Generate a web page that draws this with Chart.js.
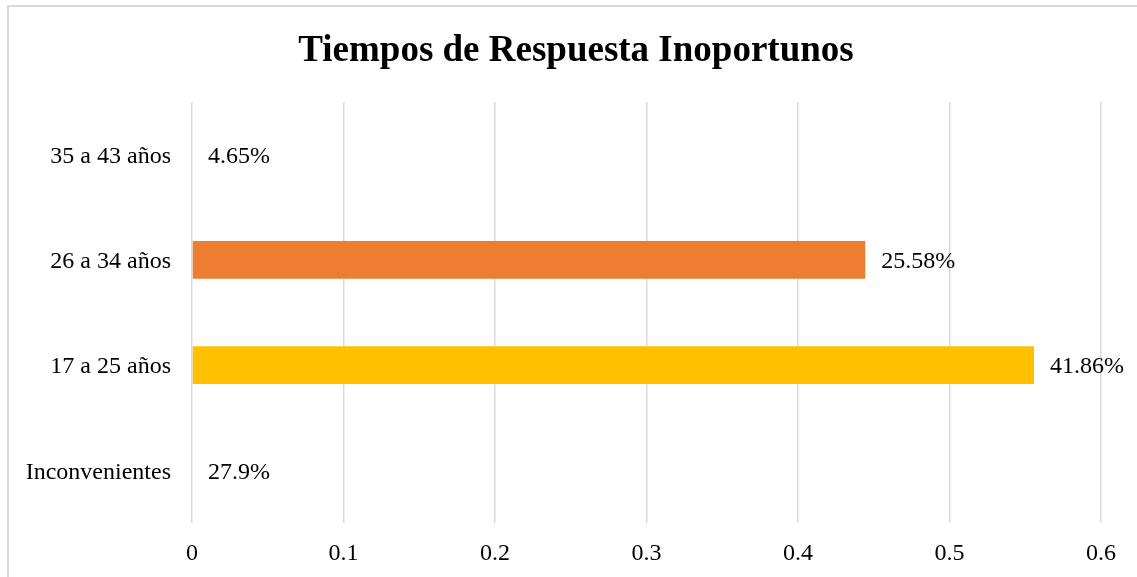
<!DOCTYPE html>
<html>
<head>
<meta charset="utf-8">
<script src="https://cdn.jsdelivr.net/npm/chart.js@4"></script>
<style>
    html, body { margin: 0; padding: 0; background: #fff; overflow: hidden; }
    #frame {
        position: absolute; left: 7px; top: 5px;
        width: 1140px; height: 580px;
        border: 2px solid #d9d9d9;
    }
    #chart { position: absolute; left: 0; top: 0; }
</style>
</head>
<body>
<div id="frame"></div>
<canvas id="chart" width="1137" height="577"></canvas>
<script>
// categories, top to bottom
var categories = ['35 a 43 años', '26 a 34 años', '17 a 25 años', 'Inconvenientes'];
// bar lengths
var barValues = [0, 0.4444, 0.5558, 0];
// texts printed next to each bar
var pctLabels = ['4.65%', '25.58%', '41.86%', '27.9%'];
var barColors = ['#4472C4', '#ED7D31', '#FFC000', '#A5A5A5'];
var xTickLabels = ['0', '0.1', '0.2', '0.3', '0.4', '0.5', '0.6'];

var FONT = '"Liberation Serif", "Times New Roman", serif';
Chart.defaults.font.family = FONT;
Chart.defaults.color = '#000';

// draws the percentage text just past the end of each bar
var valueLabels = {
    id: 'valueLabels',
    afterLayout: function(chart) {
        // let the long category names run past the padded edge without being clipped
        chart.scales.y.left = 0;
    },
    afterDatasetsDraw: function(chart) {
        var ctx = chart.ctx;
        var meta = chart.getDatasetMeta(0);
        ctx.save();
        ctx.font = '24px ' + FONT;
        ctx.fillStyle = '#000';
        ctx.textAlign = 'left';
        ctx.textBaseline = 'middle';
        meta.data.forEach(function(bar, i) {
            ctx.fillText(pctLabels[i], bar.x + 16, bar.y + 2);
        });
        ctx.restore();
    }
};

new Chart(document.getElementById('chart').getContext('2d'), {
    type: 'bar',
    data: {
        labels: categories,
        datasets: [{
            data: barValues,
            backgroundColor: barColors,
            borderWidth: 0,
            barPercentage: 0.6,
            categoryPercentage: 0.6
        }]
    },
    options: {
        indexAxis: 'y',
        responsive: false,
        animation: false,
        devicePixelRatio: 1,
        layout: { padding: { left: 51, right: 36, top: 0, bottom: 0 } },
        plugins: {
            legend: { display: false },
            tooltip: { enabled: false },
            title: {
                display: true,
                text: 'Tiempos de Respuesta Inoportunos',
                color: '#000',
                font: { size: 37, weight: 'bold', family: FONT },
                padding: { top: 29.5, bottom: 28.1 }
            }
        },
        scales: {
            x: {
                min: 0,
                max: 0.6,
                border: { display: false },
                grid: { color: '#d9d9d9', lineWidth: 1.5, drawTicks: false },
                ticks: {
                    stepSize: 0.1,
                    padding: 16,
                    font: { size: 24 },
                    callback: function(value, index) { return xTickLabels[index]; }
                },
                afterFit: function(scale) { scale.height = 54; }
            },
            y: {
                border: { display: false },
                grid: { display: false, drawTicks: false },
                ticks: { padding: 21, labelOffset: 2, font: { size: 24 } },
                afterFit: function(scale) { scale.width = 141; }
            }
        }
    },
    plugins: [valueLabels]
});
</script>
</body>
</html>
